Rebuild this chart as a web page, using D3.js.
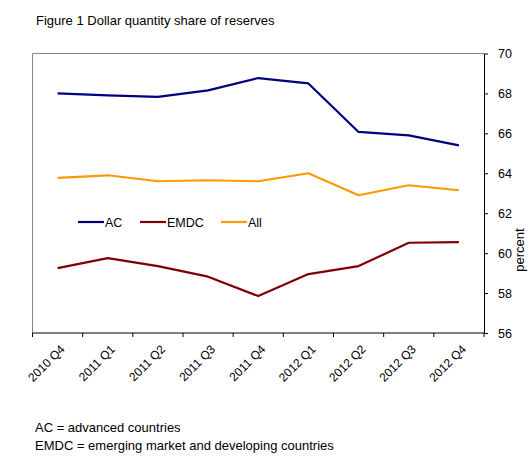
<!DOCTYPE html>
<html>
<head>
<meta charset="utf-8">
<script src="https://cdn.jsdelivr.net/npm/d3@7"></script>
<style>
  body { margin: 0; background: #fff; }
  text { font-family: "Liberation Sans", Arial, sans-serif; fill: #000; }
</style>
</head>
<body>
<div id="chart"></div>
<script>
const quarters = ["2010 Q4", "2011 Q1", "2011 Q2", "2011 Q3", "2011 Q4",
  "2012 Q1", "2012 Q2", "2012 Q3", "2012 Q4"];
const acValues = [68.0, 67.9, 67.83, 68.15, 68.77, 68.5, 66.07, 65.9, 65.4];
const emdcValues = [59.25, 59.75, 59.35, 58.82, 57.85, 58.95, 59.35, 60.52, 60.55];
const allValues = [63.77, 63.9, 63.6, 63.65, 63.6, 64.0, 62.9, 63.4, 63.15];
const seriesNames = ["AC", "EMDC", "All"];
const seriesColors = ["#000080", "#800000", "#FF9900"];
const yTicks = [56, 58, 60, 62, 64, 66, 68, 70];
const notes = ["AC = advanced countries",
  "EMDC = emerging market and developing countries"];

const width = 532;
const height = 468;
const plotLeft = 32.5, plotRight = 484, plotTop = 53.5, plotBottom = 333;

const svg = d3.select("#chart").append("svg")
  .attr("width", width)
  .attr("height", height);

const x = d3.scaleBand().domain(quarters).range([plotLeft, plotRight]);
const y = d3.scaleLinear().domain([56, 70]).range([plotBottom, plotTop]);

// title
svg.append("text")
  .attr("x", 36).attr("y", 25)
  .style("font-size", "13px")
  .text("Figure 1 Dollar quantity share of reserves");

// plot area border (left + top)
svg.append("path")
  .attr("d", `M${plotLeft},${plotBottom}V${plotTop}H${plotRight}`)
  .attr("fill", "none")
  .attr("stroke", "#868686")
  .attr("stroke-width", 1);

// right value axis
const yAxis = svg.append("g")
  .attr("transform", `translate(${plotRight},0)`)
  .call(d3.axisRight(y).tickValues(yTicks).tickSize(4).tickPadding(10).tickSizeOuter(0));
yAxis.select(".domain").attr("stroke", "#000");
yAxis.selectAll("text").style("font-size", "12.5px").attr("fill", "#000");

svg.append("text")
  .attr("transform", `translate(524,250) rotate(-90)`)
  .attr("text-anchor", "middle")
  .style("font-size", "13px")
  .text("percent");

// bottom category axis
const xAxis = svg.append("g");
xAxis.append("line")
  .attr("x1", plotLeft).attr("x2", plotRight)
  .attr("y1", plotBottom).attr("y2", plotBottom)
  .attr("stroke", "#000");
xAxis.selectAll("line.tick")
  .data(d3.range(quarters.length + 1))
  .enter().append("line")
  .attr("class", "tick")
  .attr("x1", d => plotLeft + d * x.step())
  .attr("x2", d => plotLeft + d * x.step())
  .attr("y1", plotBottom).attr("y2", plotBottom + 4)
  .attr("stroke", "#000");
xAxis.selectAll("text")
  .data(quarters)
  .enter().append("text")
  .attr("transform", d => `translate(${x(d) + x.bandwidth() / 2 + 5},${plotBottom + 14}) rotate(-45)`)
  .attr("text-anchor", "end")
  .attr("dy", "0.35em")
  .style("font-size", "12px")
  .text(d => d);

// lines
const series = [acValues, emdcValues, allValues];
const line = d3.line()
  .x((d, i) => x(quarters[i]) + x.bandwidth() / 2)
  .y(d => y(d));

svg.selectAll("path.series")
  .data(series)
  .enter().append("path")
  .attr("class", "series")
  .attr("d", line)
  .attr("fill", "none")
  .attr("stroke", (d, i) => seriesColors[i])
  .attr("stroke-width", 2.2)
  .attr("stroke-linejoin", "round");

// legend
const legendX = [78, 140, 221];
const legend = svg.selectAll("g.legend")
  .data(seriesNames)
  .enter().append("g")
  .attr("class", "legend")
  .attr("transform", (d, i) => `translate(${legendX[i]},222)`);
legend.append("line")
  .attr("x1", 0).attr("x2", 26)
  .attr("stroke", (d, i) => seriesColors[i])
  .attr("stroke-width", 2.2);
legend.append("text")
  .attr("x", 27).attr("dy", "0.36em")
  .style("font-size", "12.5px")
  .text(d => d);

// notes
svg.selectAll("text.note")
  .data(notes)
  .enter().append("text")
  .attr("class", "note")
  .attr("x", 35)
  .attr("y", (d, i) => 432 + i * 18)
  .style("font-size", "13px")
  .text(d => d);
</script>
</body>
</html>
